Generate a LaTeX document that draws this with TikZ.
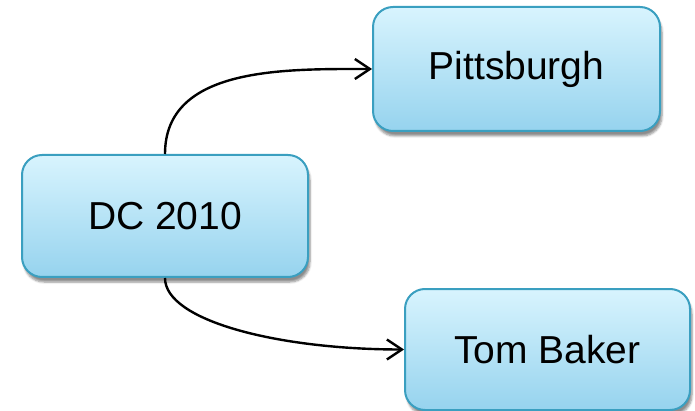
\documentclass[tikz,border=0pt]{standalone}
\usepackage{fontspec}
\setmainfont{Liberation Sans}
\usetikzlibrary{arrows.meta,shadows.blur}
\definecolor{boxtop}{HTML}{D8F4FE}
\definecolor{boxbot}{HTML}{96D3EE}
\definecolor{boxedge}{HTML}{3A9FC0}
\tikzset{
  bubble/.style={draw=boxedge, line width=2pt, rounded corners=20pt,
    top color=boxtop, bottom color=boxbot,
    blur shadow={shadow xshift=2pt, shadow yshift=-5pt, shadow blur steps=6, shadow opacity=45},
    font=\fontsize{39}{44}\selectfont, inner sep=0pt},
  link/.style={line width=2.4pt, -{Straight Barb[length=15pt,width=20pt,line width=2.4pt]}}
}
\begin{document}
\begin{tikzpicture}[x=1pt,y=-1pt]
\useasboundingbox (0,0) rectangle (695,411);
\node[bubble, minimum width=286pt, minimum height=122pt] (dc) at (165,216) {DC 2010};
\node[bubble, minimum width=287pt, minimum height=124pt] (pit) at (516.5,69) {Pittsburgh};
\node[bubble, minimum width=285pt, minimum height=121pt] (tom) at (547.5,349.5) {Tom Baker};
\draw[link] (dc.north) to[out=90, in=180] (pit.west);
\draw[link] (dc.south) .. controls +(0,43) and +(-125,0) .. (tom.west);
\end{tikzpicture}
\end{document}
